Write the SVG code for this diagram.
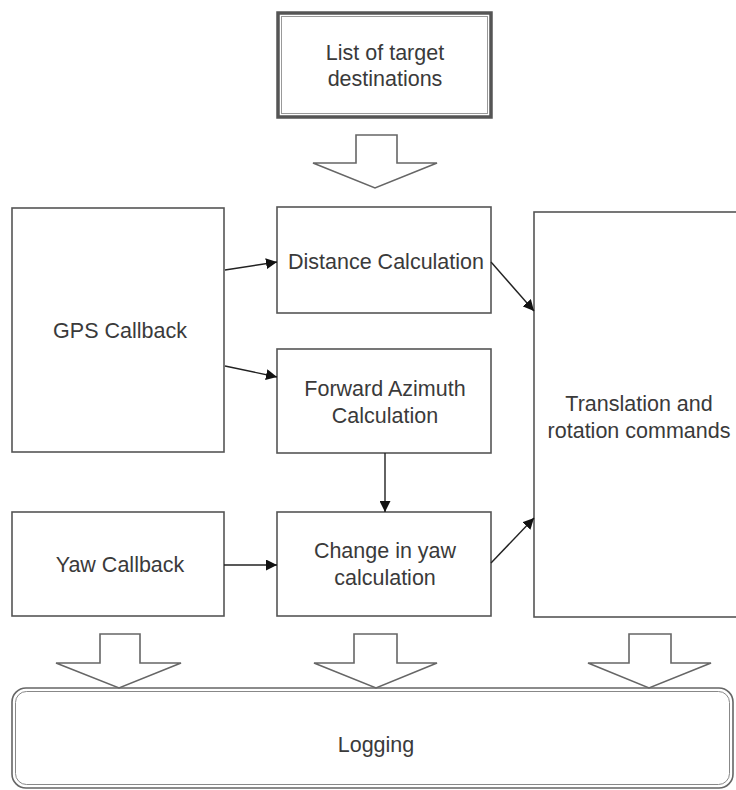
<svg xmlns="http://www.w3.org/2000/svg" width="736" height="790" viewBox="0 0 736 790">
<style>
.box{fill:#fff;stroke:#555;stroke-width:1.6}
.blk{fill:#fff;stroke:#666;stroke-width:1.6;stroke-linejoin:miter}
.lbl{font-family:"Liberation Sans",Arial,sans-serif;font-size:21.5px;fill:#3a3a3a;text-anchor:middle}
.con{stroke:#222;stroke-width:1.4;fill:none;marker-end:url(#ah)}
</style>
<defs>
<marker id="ah" viewBox="0 0 10 10" refX="10" refY="5" markerWidth="11" markerHeight="11" markerUnits="userSpaceOnUse" orient="auto">
<path d="M0,0 L10,5 L0,10 z" fill="#111"/>
</marker>
</defs>
<rect width="736" height="790" fill="#fff"/>
<g id="targets">
<rect x="278" y="13" width="213" height="104" fill="#fff" stroke="#555" stroke-width="3.5"/>
<rect x="281.5" y="16.5" width="206" height="97" fill="none" stroke="#999" stroke-width="1"/>
<text class="lbl" x="385" y="60">List of target</text>
<text class="lbl" x="385" y="86">destinations</text>
</g>
<g id="gps">
<rect class="box" x="12" y="208" width="212" height="244"/>
<text class="lbl" x="120" y="338">GPS Callback</text>
</g>
<g id="distance">
<rect class="box" x="277" y="207" width="214" height="106"/>
<text class="lbl" x="386" y="269">Distance Calculation</text>
</g>
<g id="azimuth">
<rect class="box" x="277" y="349" width="214" height="104"/>
<text class="lbl" x="385" y="396">Forward Azimuth</text>
<text class="lbl" x="385" y="423">Calculation</text>
</g>
<g id="yaw">
<rect class="box" x="12" y="512" width="212" height="104"/>
<text class="lbl" x="120" y="572">Yaw Callback</text>
</g>
<g id="change">
<rect class="box" x="277" y="512" width="214" height="104"/>
<text class="lbl" x="385" y="558">Change in yaw</text>
<text class="lbl" x="385" y="585">calculation</text>
</g>
<g id="commands">
<rect class="box" x="534" y="212" width="210" height="405"/>
<text class="lbl" x="639" y="411">Translation and</text>
<text class="lbl" x="639" y="438">rotation commands</text>
</g>
<g id="logging">
<rect x="12" y="688" width="721" height="100" rx="14" fill="#fff" stroke="#666" stroke-width="1.6"/>
<rect x="15.5" y="691.5" width="714" height="93" rx="11" fill="none" stroke="#888" stroke-width="1"/>
<text class="lbl" x="376" y="752">Logging</text>
</g>
<g id="block-arrows">
<path class="blk" d="M356,135 H397 V163 H437 L375,188 L313,163 H356 Z"/>
<path class="blk" d="M100,634 H140 V663 H181 L119,688 L56,663 H100 Z"/>
<path class="blk" d="M354,634 H397 V663 H437 L376,688 L314,663 H354 Z"/>
<path class="blk" d="M629,634 H671 V663 H711 L649,688 L588,663 H629 Z"/>
</g>
<g id="connectors">
<line class="con" x1="225" y1="270" x2="277" y2="262"/>
<line class="con" x1="225" y1="366" x2="277" y2="377"/>
<line class="con" x1="385" y1="453" x2="385" y2="512"/>
<line class="con" x1="224" y1="565" x2="277" y2="565"/>
<line class="con" x1="491" y1="262" x2="534" y2="311"/>
<line class="con" x1="491" y1="563" x2="534" y2="518"/>
</g>
</svg>
